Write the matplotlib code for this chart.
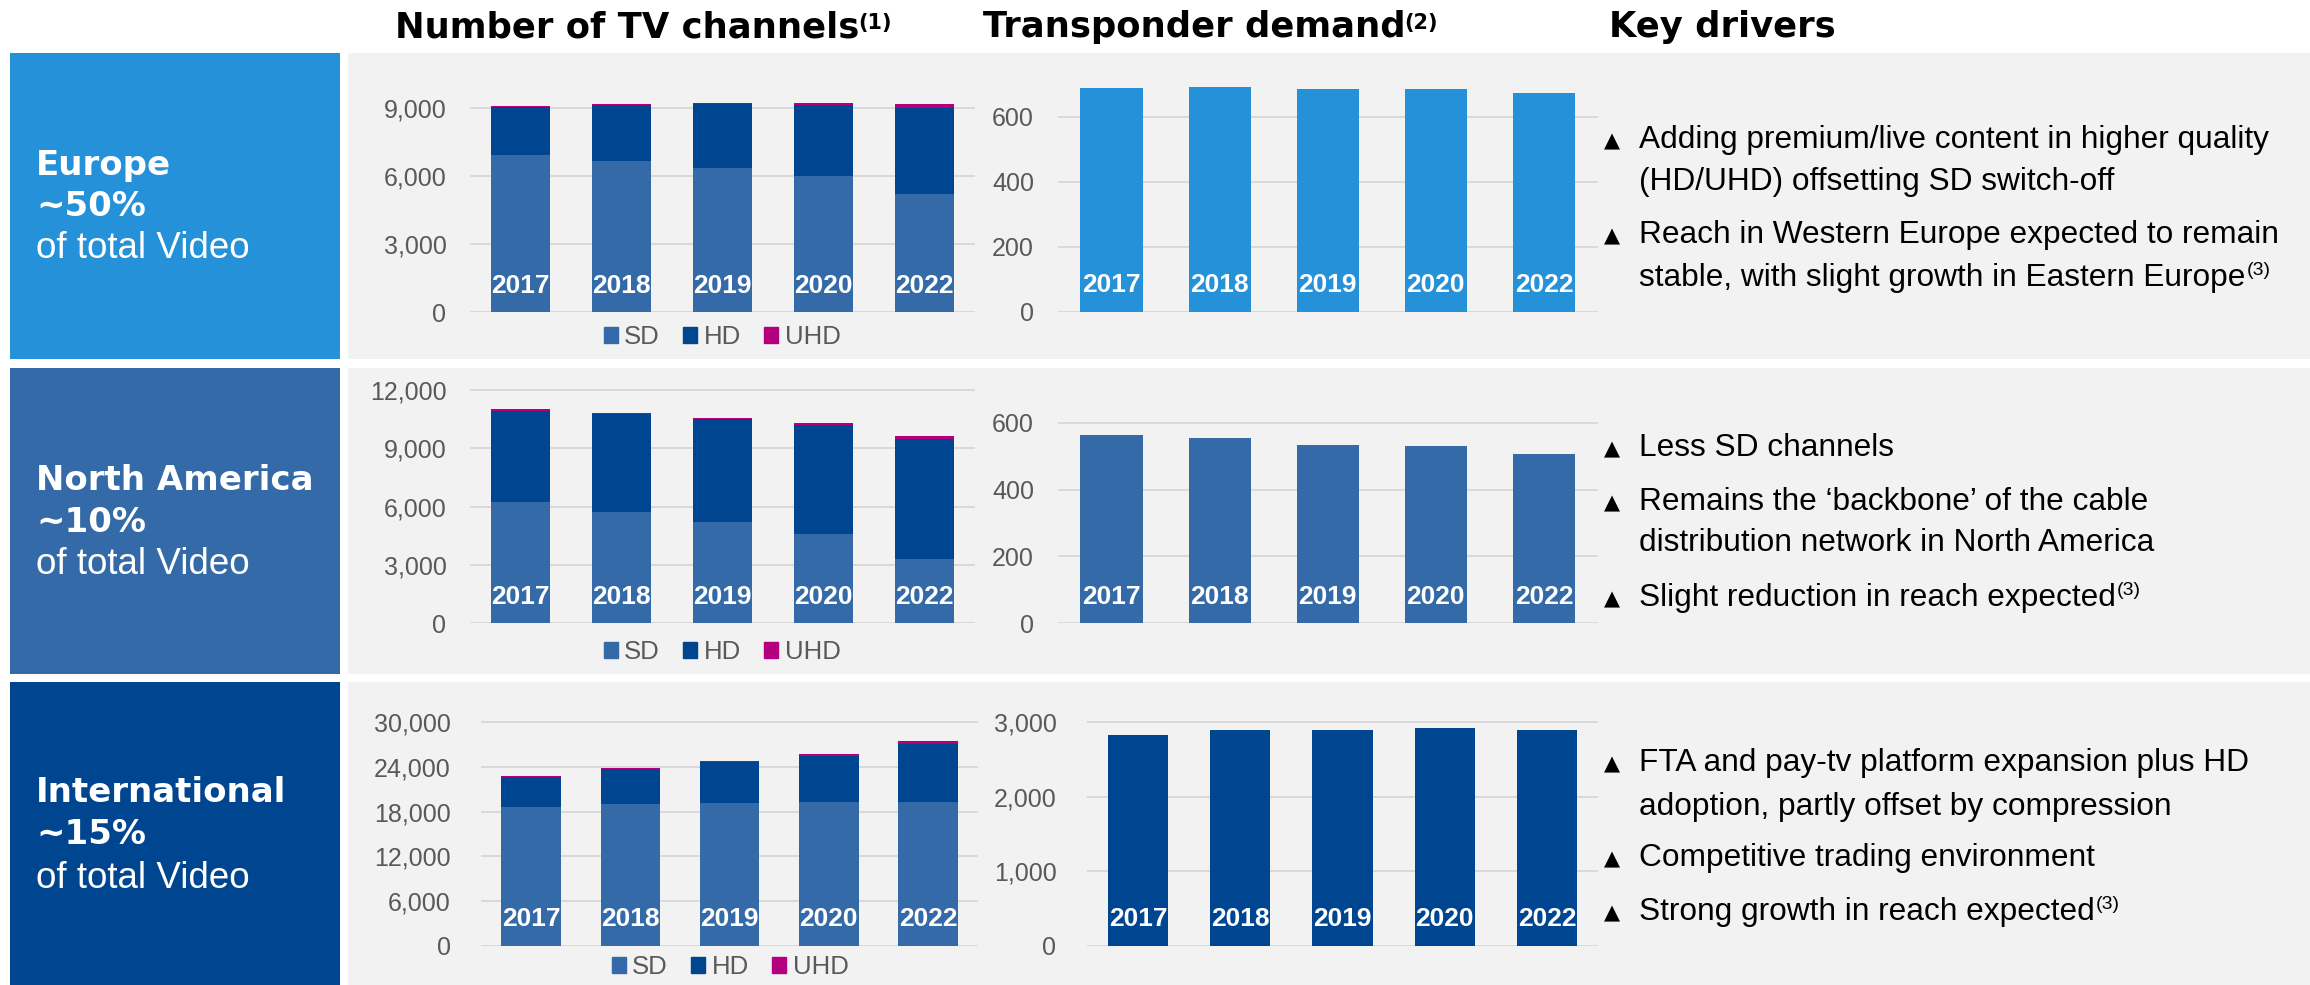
import matplotlib
matplotlib.use("Agg")
import matplotlib.pyplot as plt
from matplotlib.patches import Rectangle, Patch
from matplotlib.ticker import FuncFormatter

W, H = 2310, 985

years = ['2017', '2018', '2019', '2020', '2022']

# number of TV channels (stacked) and transponder demand per region
eu_sd = [6900, 6650, 6340, 5985, 5190]
eu_hd = [2150, 2450, 2810, 3120, 3780]
eu_uhd = [40, 60, 60, 100, 190]
eu_tp = [688, 691, 686, 686, 675]

na_sd = [6220, 5710, 5190, 4580, 3290]
na_hd = [4700, 5070, 5315, 5640, 6210]
na_uhd = [80, 55, 70, 85, 155]
na_tp = [562, 553, 534, 530, 507]

int_sd = [18630, 18990, 19120, 19250, 19250]
int_hd = [4030, 4790, 5550, 6270, 7880]
int_uhd = [130, 130, 180, 270, 360]
int_tp = [2834, 2893, 2893, 2924, 2893]

eu_ticks = [0, 3000, 6000, 9000]
eu_tp_ticks = [0, 200, 400, 600]
na_ticks = [0, 3000, 6000, 9000, 12000]
na_tp_ticks = [0, 200, 400, 600]
int_ticks = [0, 6000, 12000, 18000, 24000, 30000]
int_tp_ticks = [0, 1000, 2000, 3000]

region_names = ['Europe', 'North America', 'International']
region_shares = ['~50%', '~10%', '~15%']

eu_drivers = [['Adding premium/live content in higher quality', '(HD/UHD) offsetting SD switch-off'],
              ['Reach in Western Europe expected to remain', 'stable, with slight growth in Eastern Europe']]
na_drivers = [['Less SD channels'],
              ['Remains the \u2018backbone\u2019 of the cable', 'distribution network in North America'],
              ['Slight reduction in reach expected']]
int_drivers = [['FTA and pay-tv platform expansion plus HD', 'adoption, partly offset by compression'],
               ['Competitive trading environment'],
               ['Strong growth in reach expected']]

C_SD = '#346AA7'
C_HD = '#00458F'
C_UHD = '#B4007E'
C_EU = '#2591D9'
GRID = '#D9D9D9'
TICK = '#595959'
BG = '#F2F2F2'

FONT = ['Liberation Sans', 'DejaVu Sans']
plt.rcParams['font.family'] = FONT

fig = plt.figure(figsize=(W / 100, H / 100), dpi=100)
fig.patch.set_facecolor('white')

bg = fig.add_axes([0, 0, 1, 1])
bg.set_xlim(0, W)
bg.set_ylim(H, 0)
bg.axis('off')

rows_y = [(53, 359), (368, 674), (682, 985)]
box_colors = [C_EU, C_SD, C_HD]
for (top, bot), col in zip(rows_y, box_colors):
    bg.add_patch(Rectangle((10, top), 330, bot - top, color=col, lw=0))
    bg.add_patch(Rectangle((348, top), W - 348, bot - top, color=BG, lw=0))

renderer = fig.canvas.get_renderer()


def sup(t, s, size, weight='normal', dx=1, dy=-2):
    bb = t.get_window_extent(renderer=renderer)
    x, y = bg.transData.inverted().transform((bb.x1, bb.y1))
    bg.text(x + dx, y + dy, s, fontsize=size, fontweight=weight, va='top', ha='left',
            color=t.get_color(), family=t.get_fontfamily())


# header titles
t = bg.text(395, 27, 'Number of TV channels', fontsize=25.5, fontweight='bold',
            family='DejaVu Sans', va='center', color='black')
sup(t, '(1)', 15, 'bold', dx=-1, dy=3)
t = bg.text(983, 27, 'Transponder demand', fontsize=25.5, fontweight='bold',
            family='DejaVu Sans', va='center', color='black')
sup(t, '(2)', 15, 'bold', dx=-1, dy=3)
bg.text(1609, 27, 'Key drivers', fontsize=25.5, fontweight='bold',
        family='DejaVu Sans', va='center', color='black')

# region boxes text
box_text_y = [(165, 207, 248), (480, 522, 565), (793, 835, 878)]
for name, share, (y1, y2, y3) in zip(region_names, region_shares, box_text_y):
    bg.text(36, y1, name, fontsize=24.5, fontweight='bold', family='DejaVu Sans',
            color='white', va='center')
    bg.text(36, y2, share, fontsize=24.5, fontweight='bold', family='DejaVu Sans',
            color='white', va='center')
    bg.text(36, y3, 'of total Video', fontsize=26.5, color='white', va='center')


def make_ax(xl, xr, y0, yref, ref, ytop, ticks, pad):
    k = (y0 - yref) / ref
    ax = fig.add_axes([xl / W, (H - y0) / H, (xr - xl) / W, k * ytop / H])
    ax.set_facecolor('none')
    ax.set_xlim(-0.5, 4.5)
    ax.set_ylim(0, ytop)
    ax.set_yticks(ticks)
    ax.yaxis.set_major_formatter(FuncFormatter(lambda v, p: f'{v:,.0f}'))
    ax.set_xticks([])
    ax.grid(axis='y', color=GRID, lw=1.4)
    ax.set_axisbelow(True)
    for s in ax.spines.values():
        s.set_visible(False)
    ax.tick_params(axis='y', length=0, pad=pad, labelsize=18, labelcolor=TICK)
    return ax


def year_labels(ax):
    for i, yr in enumerate(years):
        ax.annotate(yr, (i, 0), xytext=(0, 19), textcoords='offset points',
                    ha='center', va='center', color='white', fontsize=19,
                    fontweight='bold')


def tv_chart(ax, sd, hd, uhd, width, legend_xy):
    x = range(len(years))
    top = [a + b for a, b in zip(sd, hd)]
    ax.bar(x, sd, width, color=C_SD, lw=0)
    ax.bar(x, hd, width, bottom=sd, color=C_HD, lw=0)
    ax.bar(x, uhd, width, bottom=top, color=C_UHD, lw=0)
    year_labels(ax)
    handles = [Patch(color=C_SD, label='SD'), Patch(color=C_HD, label='HD'),
               Patch(color=C_UHD, label='UHD')]
    ax.legend(handles=handles, loc='center',
              bbox_to_anchor=(legend_xy[0] / W, 1 - legend_xy[1] / H),
              bbox_transform=fig.transFigure, ncol=3, frameon=False,
              handlelength=0.55, handleheight=0.55, handletextpad=0.25,
              columnspacing=0.9, fontsize=18.5, labelcolor=TICK)


def tp_chart(ax, vals, width, color):
    ax.bar(range(len(years)), vals, width, color=color, lw=0)
    year_labels(ax)


# Europe
ax = make_ax(470, 975, 312, 107.7, 9000, 9500, eu_ticks, 17)
tv_chart(ax, eu_sd, eu_hd, eu_uhd, 0.58, (722, 337))
ax = make_ax(1057.5, 1598, 311.7, 117, 600, 720, eu_tp_ticks, 17)
tp_chart(ax, eu_tp, 0.575, C_EU)

# North America
ax = make_ax(470, 975, 623.3, 390, 12000, 12300, na_ticks, 17)
tv_chart(ax, na_sd, na_hd, na_uhd, 0.58, (722, 652))
ax = make_ax(1057.5, 1598, 623.3, 422.7, 600, 620, na_tp_ticks, 17)
tp_chart(ax, na_tp, 0.575, C_SD)

# International
ax = make_ax(481.5, 977.7, 945.7, 722.3, 30000, 30600, int_ticks, 22)
tv_chart(ax, int_sd, int_hd, int_uhd, 0.6, (730, 967))
ax = make_ax(1087, 1598, 945.7, 722.3, 3000, 3060, int_tp_ticks, 22)
tp_chart(ax, int_tp, 0.59, C_HD)

# key drivers
driver_y = [[(140, 182), (235, 278)],
            [(448,), (502, 543), (598,)],
            [(763, 807), (858,), (912,)]]
driver_sup = [[False, True], [False, False, True], [False, False, True]]
for drivers, ys, sups in zip([eu_drivers, na_drivers, int_drivers], driver_y, driver_sup):
    for lines, yy, has_sup in zip(drivers, ys, sups):
        bg.text(1604, yy[0] + 1, '\u25B2', fontsize=15, family='DejaVu Sans',
                color='black', va='center', ha='left')
        for line, y in zip(lines, yy):
            t = bg.text(1639, y, line, fontsize=22.8, color='black', va='center', ha='left')
        if has_sup:
            sup(t, '(3)', 14, dy=-1)

fig.savefig('out.png', dpi=100)
